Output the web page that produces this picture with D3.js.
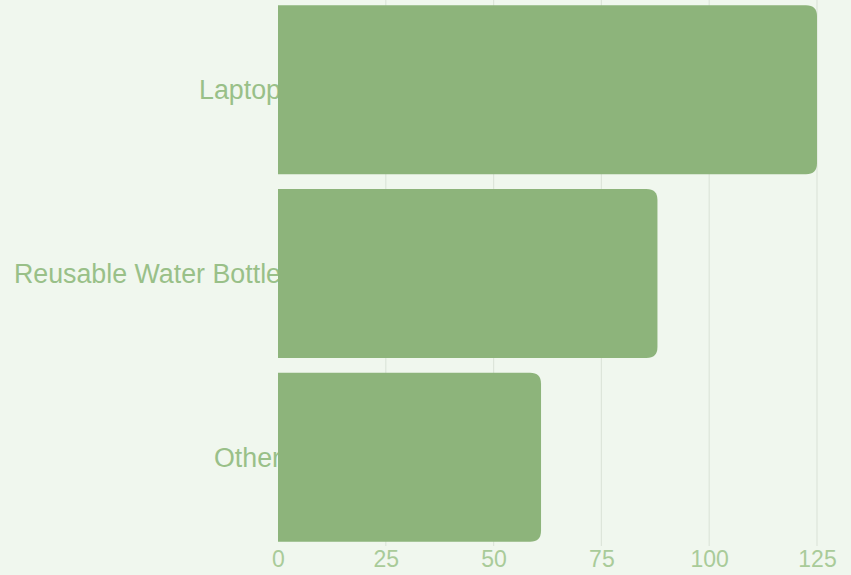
<!DOCTYPE html>
<html>
<head>
<meta charset="utf-8">
<script src="https://cdn.jsdelivr.net/npm/d3@7"></script>
<style>
  body { margin: 0; background: #f0f7ee; }
  svg { display: block; }
  text { font-family: "Liberation Sans", Arial, sans-serif; }
</style>
</head>
<body>
<div id="chart"></div>
<script>
// values
let categories = ["Laptop", "Reusable Water Bottle", "Other"];
let counts = [125, 88, 61];
let tickValues = [0, 25, 50, 75, 100, 125];

let width = 851;
let height = 575;

let x = d3.scaleLinear()
    .domain([0, 125])
    .range([278, 817]);

let y = d3.scaleBand()
    .domain(categories)
    .range([-2, 549])
    .paddingInner(0.08)
    .paddingOuter(0.04);

let svg = d3.select("#chart")
    .append("svg")
    .attr("width", width)
    .attr("height", height);

svg.append("rect")
    .attr("width", width)
    .attr("height", height)
    .attr("fill", "#f0f7ee");

// vertical grid lines
svg.append("g")
    .selectAll("line")
    .data(tickValues.slice(1))
    .enter()
    .append("line")
    .attr("x1", function (d) { return x(d); })
    .attr("x2", function (d) { return x(d); })
    .attr("y1", 0)
    .attr("y2", 546)
    .attr("stroke", "#dde5da")
    .attr("stroke-width", 1.2);

// category labels (bars get drawn over their tail)
svg.append("g")
    .selectAll("text")
    .data(categories)
    .enter()
    .append("text")
    .attr("x", 281)
    .attr("y", function (d) { return y(d) + y.bandwidth() / 2; })
    .attr("dy", "0.35em")
    .attr("text-anchor", "end")
    .attr("font-size", 26.8)
    .attr("fill", "#99c088")
    .text(function (d) { return d; });

// bars, rounded on the right end only
let r = 11;
svg.append("g")
    .selectAll("path")
    .data(counts)
    .enter()
    .append("path")
    .attr("fill", "#8db47b")
    .attr("d", function (d, i) {
        let x0 = x(0), x1 = x(d);
        let y0 = y(categories[i]), y1 = y0 + y.bandwidth();
        return "M" + x0 + "," + y0 +
            "H" + (x1 - r) +
            "Q" + x1 + "," + y0 + " " + x1 + "," + (y0 + r) +
            "V" + (y1 - r) +
            "Q" + x1 + "," + y1 + " " + (x1 - r) + "," + y1 +
            "H" + x0 + "Z";
    });

// bottom axis
let axis = svg.append("g")
    .attr("transform", "translate(0,548)")
    .call(d3.axisBottom(x).tickValues(tickValues).tickSize(0).tickPadding(3));

axis.select(".domain").remove();
axis.selectAll("text")
    .attr("font-size", 23)
    .attr("fill", "#a9cb99")
    .style("font-family", "'Liberation Sans', Arial, sans-serif");
</script>
</body>
</html>
